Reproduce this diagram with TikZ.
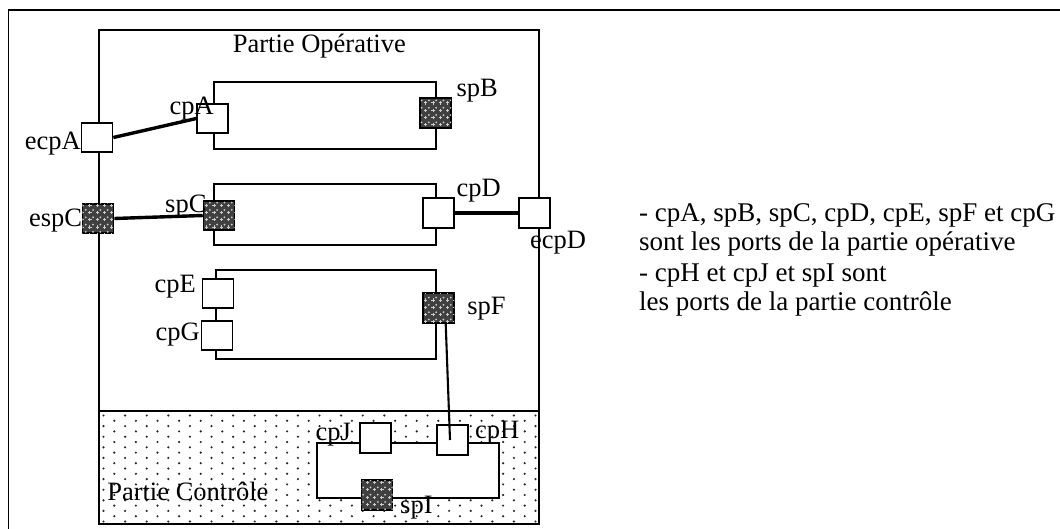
\documentclass[tikz,border=0pt]{standalone}
\usepackage{fontspec}
\setmainfont{Liberation Serif}
\usetikzlibrary{patterns.meta}
\tikzdeclarepattern{
  name=chk,
  type=uncolored,
  bottom left={(-.1pt,-.1pt)},
  top right={(7.4pt,7.4pt)},
  tile size={(7.3pt,7.3pt)},
  code={
    \fill (1.8pt,1.0pt) rectangle (2.7pt,4.2pt);
    \fill (0.6pt,2.2pt) rectangle (3.9pt,3.1pt);
    \fill (5.45pt,5.1pt) circle (1.0pt);
  }
}
\tikzset{
  lbl/.style={font=\fontsize{26.5pt}{31pt}\selectfont, inner sep=0pt, anchor=base west},
  leg/.style={font=\fontsize{27pt}{31pt}\selectfont, inner sep=0pt, anchor=base west},
  comp/.style={draw, line width=1.7pt, inner sep=0pt},
  wport/.style={draw, fill=white, line width=1.7pt, minimum width=31pt, minimum height=29.5pt, inner sep=0pt},
  sport/.style={draw, fill=black!75, line width=1.7pt, minimum width=31pt, minimum height=29.5pt, inner sep=0pt,
     postaction={pattern=chk, pattern color=white!80!black}},
  thickwire/.style={line width=3.4pt},
  thinwire/.style={line width=2.1pt},
}
\begin{document}
\begin{tikzpicture}[x=1pt,y=-1pt]
\useasboundingbox (0,0) rectangle (1060,529);
% outer frame
\draw[line width=1.7pt] (8.5,529) -- (8.5,10) -- (1060,10);
% Partie Operative box
\node[comp, minimum width=440pt, minimum height=494pt] (po) at (318.7,277) {};
% Partie Controle box with dots
\begin{scope}
  \clip (98.6,411) rectangle (538.9,524);
  \fill[white] (98.6,411) rectangle (538.9,524);
  \foreach \j in {0,...,21}{
    \pgfmathsetmacro{\yy}{415.5+5.3*\j}
    \pgfmathsetmacro{\off}{mod(\j,2)*10.8}
    \foreach \i in {0,...,21}{
      \fill[black!85] ({103.5+\off+21.6*\i},\yy) circle (1.2pt);
    }
  }
\end{scope}
\node[comp, minimum width=440pt, minimum height=113pt] (pc) at (318.7,467.5) {};
% components
\node[comp, minimum width=222pt, minimum height=67pt] (c1) at (325.2,115.5) {};
\node[comp, minimum width=222pt, minimum height=61pt] (c2) at (325.2,214.5) {};
\node[comp, minimum width=220pt, minimum height=89pt] (c3) at (326.3,314.5) {};
\node[comp, fill=white, minimum width=182pt, minimum height=55pt] (c4) at (408.2,470.5) {};
% ports
\node[wport] (cpA) at (212.7,118.5) {};
\node[sport] (spB) at (435.5,113) {};
\node[wport] (ecpA) at (97,137.5) {};
\node[sport] (espC) at (98,218.5) {};
\node[sport] (spC) at (219.1,215.5) {};
\node[wport] (cpD) at (438.7,213) {};
\node[wport] (ecpD) at (534.6,213) {};
\node[wport] (cpE) at (218,293.5) {};
\node[wport] (cpG) at (217,335.5) {};
\node[sport] (spF) at (438.7,308) {};
\node[wport] (cpJ) at (375.8,438) {};
\node[wport] (cpH) at (452.5,440) {};
\node[sport] (spI) at (377,495) {};
% connectors
\draw[thickwire] (ecpA.east) -- (cpA.west);
\draw[thickwire] (espC.east) -- (spC.west);
\draw[thickwire] (cpD.east) -- (ecpD.west);
\draw[thinwire] ([xshift=7pt]spF.south) -- ([xshift=-2.5pt]cpH.center);
% labels
\node[lbl, anchor=base] (lpo) at (319.3,53) {Partie Opérative};
\node[lbl] (lcpA) at (169.3,115) {cpA};
\node[lbl] (lspB) at (456.4,97) {spB};
\node[lbl] (lecpA) at (24.6,150) {ecpA};
\node[lbl] (lespC) at (28.9,227) {espC};
\node[lbl] (lspC) at (165,213) {spC};
\node[lbl] (lcpD) at (456.4,197) {cpD};
\node[lbl] (lecpD) at (530,249) {ecpD};
\node[lbl] (lcpE) at (154.3,293) {cpE};
\node[lbl] (lcpG) at (155.4,340) {cpG};
\node[lbl] (lspF) at (467.1,315) {spF};
\node[lbl] (lcpJ) at (315.5,440) {cpJ};
\node[lbl] (lcpH) at (474.8,438) {cpH};
\node[lbl] (lspI) at (400,513) {spI};
\node[lbl] (lpc) at (107.1,500) {Partie Contrôle};
% legend
\node[leg] (t1) at (639,221.7) {- cpA, spB, spC, cpD, cpE, spF et cpG};
\node[leg] (t2) at (639,250.5) {sont les ports de la partie opérative};
\node[leg] (t3) at (639,281.5) {- cpH et cpJ et spI sont};
\node[leg] (t4) at (639,311) {les ports de la partie contrôle};
\end{tikzpicture}
\end{document}
